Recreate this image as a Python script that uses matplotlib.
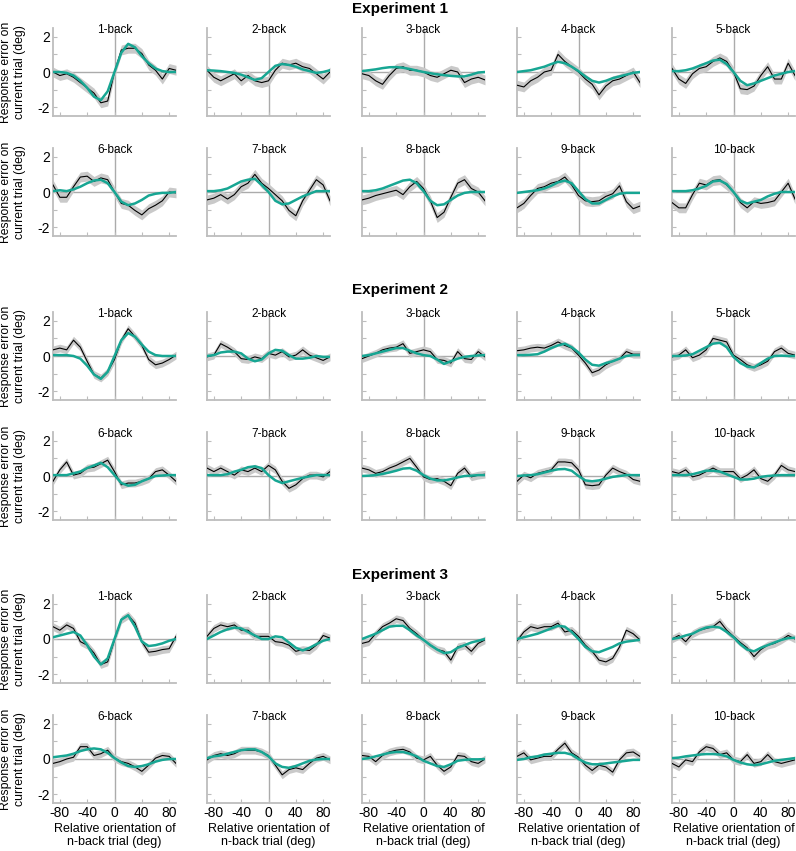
import numpy as np
import matplotlib.pyplot as plt

plt.rcParams['font.family'] = ['Liberation Sans', 'DejaVu Sans']

# relative orientation of the n-back trial (deg)
orientation = [-90, -80, -70, -60, -50, -40, -30, -20, -10, 0,
               10, 20, 30, 40, 50, 60, 70, 80, 90]

experiments = ['Experiment 1', 'Experiment 2', 'Experiment 3']
nback_labels = ['1-back', '2-back', '3-back', '4-back', '5-back',
                '6-back', '7-back', '8-back', '9-back', '10-back']

# mean response error (black line), one list per n-back
exp1_data = [
    [0.0, -0.2, -0.1, -0.3, -0.6, -0.9, -1.2, -1.75, -1.65, 0.0, 1.25, 1.35, 1.35, 1.05, 0.4, 0.1, -0.4, 0.2, 0.1],
    [0.1, -0.3, -0.5, -0.3, -0.1, -0.5, -0.2, -0.5, -0.6, -0.5, 0.1, 0.5, 0.4, 0.5, 0.3, 0.2, -0.1, -0.4, 0.0],
    [-0.1, -0.2, -0.5, -0.7, -0.2, 0.2, 0.3, 0.1, 0.1, 0.0, -0.2, -0.3, -0.1, 0.1, 0.0, -0.6, -0.4, -0.3, -0.45],
    [-0.75, -0.85, -0.5, -0.3, 0.0, 0.1, 1.0, 0.6, 0.3, 0.0, -0.4, -0.7, -1.3, -0.8, -0.5, -0.4, -0.2, 0.0, -0.6],
    [0.2, -0.4, -0.65, -0.1, 0.2, 0.3, 0.6, 0.8, 0.6, 0.0, -0.95, -1.0, -0.8, -0.2, 0.3, -0.4, -0.4, 0.5, -0.2],
    [0.4, -0.3, -0.3, 0.3, 0.85, 0.9, 0.6, 0.8, 0.7, 0.0, -0.65, -0.75, -1.05, -1.3, -0.95, -0.75, -0.5, 0.0, -0.05],
    [-0.45, -0.35, -0.15, -0.4, -0.15, 0.3, 0.5, 1.0, 0.5, 0.2, -0.15, -0.5, -1.05, -1.35, -0.5, 0.1, 0.7, 0.4, -0.5],
    [-0.45, -0.35, -0.2, -0.1, 0.0, 0.1, -0.15, 0.3, 0.6, 0.2, -0.5, -1.45, -1.15, -0.3, 0.5, 0.7, 0.2, 0.0, -0.5],
    [-0.9, -0.65, -0.2, 0.2, 0.3, 0.5, 0.6, 0.85, 0.4, -0.2, -0.5, -0.55, -0.5, -0.25, -0.1, 0.35, -0.55, -0.95, -0.8],
    [-0.6, -0.9, -0.9, -0.15, 0.5, 0.4, 0.65, 0.7, 0.4, 0.0, -0.6, -0.9, -0.55, -0.65, -0.6, -0.5, 0.0, 0.5, -0.4],
]
exp2_data = [
    [0.35, 0.45, 0.35, 0.9, 0.5, -0.3, -1.05, -1.25, -0.9, -0.2, 0.9, 1.55, 1.1, 0.6, -0.2, -0.5, -0.4, -0.2, 0.05],
    [-0.05, 0.05, 0.7, 0.5, 0.25, -0.15, -0.2, -0.05, -0.15, 0.15, 0.05, 0.25, -0.05, 0.05, 0.35, 0.05, -0.1, -0.25, -0.05],
    [-0.15, 0.0, 0.15, 0.35, 0.45, 0.5, 0.7, 0.15, 0.25, 0.35, 0.25, -0.2, -0.25, -0.4, 0.25, -0.15, -0.2, 0.25, -0.05],
    [0.3, 0.35, 0.45, 0.5, 0.45, 0.6, 0.8, 0.6, 0.45, 0.05, -0.4, -0.95, -0.8, -0.5, -0.3, -0.15, 0.25, 0.1, 0.1],
    [-0.05, 0.05, 0.35, -0.1, 0.05, 0.35, 1.0, 0.9, 0.8, 0.05, -0.2, -0.5, -0.65, -0.5, -0.3, 0.25, 0.45, 0.15, 0.05],
    [-0.3, 0.35, 0.8, 0.05, 0.15, 0.45, 0.5, 0.7, 0.9, 0.25, -0.5, -0.4, -0.4, -0.3, -0.15, 0.25, 0.35, 0.05, -0.3],
    [0.45, 0.25, 0.45, 0.25, 0.05, 0.35, 0.25, 0.45, 0.25, 0.6, 0.35, -0.3, -0.7, -0.5, -0.15, 0.05, 0.05, -0.05, 0.25],
    [0.45, 0.35, 0.15, 0.25, 0.45, 0.6, 0.8, 1.0, 0.5, -0.05, -0.2, -0.15, -0.3, -0.55, 0.15, 0.45, -0.05, 0.05, 0.1],
    [-0.3, 0.05, -0.1, 0.15, 0.25, 0.35, 0.8, 0.8, 0.75, 0.35, -0.5, -0.55, -0.5, 0.05, 0.45, 0.25, 0.1, -0.2, -0.3],
    [0.25, 0.15, 0.35, -0.05, 0.05, 0.25, 0.45, 0.25, 0.25, 0.25, -0.15, 0.05, 0.35, -0.15, -0.3, 0.05, 0.6, 0.35, 0.25],
]
exp3_data = [
    [0.7, 0.5, 0.8, 0.6, -0.15, -0.35, -0.8, -1.45, -1.3, -0.05, 1.1, 1.35, 0.9, -0.15, -0.75, -0.7, -0.6, -0.55, 0.15],
    [0.15, 0.6, 0.8, 0.7, 0.8, 0.5, 0.5, 0.15, 0.15, 0.15, -0.15, -0.2, -0.35, -0.7, -0.6, -0.65, -0.35, 0.2, 0.05],
    [-0.25, -0.15, 0.3, 0.7, 0.9, 1.15, 1.05, 0.6, 0.3, -0.05, -0.35, -0.6, -0.7, -1.2, -0.45, -0.35, -0.7, -0.25, -0.05],
    [-0.1, 0.4, 0.7, 0.6, 0.7, 0.7, 0.9, 0.4, 0.5, 0.15, -0.35, -0.7, -1.2, -1.3, -1.1, -0.45, 0.5, 0.3, -0.05],
    [0.0, 0.2, -0.15, 0.3, 0.5, 0.6, 0.7, 1.0, 0.5, 0.15, -0.2, -0.5, -1.0, -0.6, -0.35, -0.25, -0.05, 0.2, 0.0],
    [-0.25, -0.15, 0.0, 0.1, 0.7, 0.7, 0.2, 0.3, 0.5, 0.05, -0.15, -0.25, -0.45, -0.7, -0.35, 0.05, 0.2, 0.15, -0.25],
    [-0.05, 0.2, 0.3, 0.2, 0.3, 0.5, 0.5, 0.5, 0.4, 0.2, -0.35, -0.9, -0.6, -0.5, -0.6, -0.25, 0.05, 0.15, -0.05],
    [0.2, 0.15, -0.15, 0.2, 0.4, 0.5, 0.55, 0.4, 0.05, -0.05, 0.15, -0.35, -0.7, -0.45, 0.2, 0.15, -0.15, -0.25, 0.0],
    [0.15, 0.35, -0.05, 0.05, 0.15, 0.15, 0.55, 0.9, 0.35, 0.1, -0.35, -0.65, -0.35, -0.45, -0.75, -0.05, 0.35, 0.4, 0.15],
    [-0.25, -0.45, -0.05, -0.15, 0.4, 0.7, 0.6, 0.25, 0.35, -0.05, -0.15, 0.25, -0.25, -0.15, 0.25, -0.15, -0.25, -0.15, -0.05],
]

# model fit (teal curve)
exp1_fit = [
    [0.0, 0.0, -0.05, -0.2, -0.5, -0.9, -1.4, -1.6, -1.1, 0.0, 1.1, 1.6, 1.4, 0.9, 0.5, 0.2, 0.05, 0.0, 0.0],
    [0.1, 0.08, 0.05, 0.0, -0.05, -0.15, -0.3, -0.45, -0.35, 0.0, 0.35, 0.45, 0.4, 0.3, 0.15, 0.05, -0.05, 0.0, 0.1],
    [0.05, 0.1, 0.15, 0.22, 0.27, 0.28, 0.24, 0.17, 0.08, 0.0, -0.07, -0.13, -0.18, -0.22, -0.25, -0.25, -0.15, -0.03, 0.0],
    [0.0, 0.05, 0.1, 0.2, 0.3, 0.45, 0.58, 0.5, 0.3, 0.05, -0.25, -0.5, -0.6, -0.5, -0.35, -0.25, -0.15, -0.05, 0.0],
    [0.05, 0.05, 0.1, 0.2, 0.35, 0.5, 0.65, 0.7, 0.45, 0.0, -0.5, -0.75, -0.65, -0.5, -0.35, -0.2, -0.1, 0.0, 0.05],
    [0.05, 0.1, 0.05, 0.15, 0.3, 0.5, 0.65, 0.7, 0.5, 0.0, -0.55, -0.75, -0.65, -0.45, -0.2, -0.1, -0.05, -0.05, 0.0],
    [0.05, 0.05, 0.1, 0.2, 0.4, 0.6, 0.7, 0.75, 0.4, 0.0, -0.5, -0.7, -0.65, -0.45, -0.25, -0.1, 0.05, 0.05, 0.05],
    [0.05, 0.05, 0.1, 0.2, 0.35, 0.5, 0.65, 0.7, 0.5, 0.05, -0.5, -0.75, -0.7, -0.45, -0.2, -0.05, 0.0, 0.0, 0.0],
    [-0.05, 0.0, 0.05, 0.1, 0.2, 0.35, 0.55, 0.65, 0.5, 0.05, -0.4, -0.65, -0.65, -0.45, -0.25, -0.1, -0.05, -0.05, -0.05],
    [0.05, 0.05, 0.05, 0.1, 0.2, 0.35, 0.6, 0.65, 0.45, 0.0, -0.5, -0.65, -0.55, -0.45, -0.25, -0.1, 0.0, 0.0, 0.0],
]
exp2_fit = [
    [0.05, 0.05, 0.05, 0.0, -0.15, -0.55, -1.05, -1.3, -0.9, 0.0, 0.9, 1.3, 1.1, 0.65, 0.25, 0.05, 0.0, 0.0, 0.0],
    [0.0, 0.05, 0.2, 0.25, 0.25, 0.15, -0.15, -0.3, -0.2, 0.15, 0.35, 0.3, 0.05, -0.15, -0.15, -0.1, 0.0, -0.05, -0.05],
    [0.0, 0.05, 0.15, 0.25, 0.35, 0.45, 0.45, 0.3, 0.15, 0.05, 0.0, -0.2, -0.45, -0.3, -0.15, -0.05, 0.0, 0.03, 0.05],
    [0.05, 0.05, 0.07, 0.1, 0.25, 0.45, 0.6, 0.7, 0.5, 0.2, -0.2, -0.5, -0.55, -0.4, -0.3, -0.15, 0.0, 0.05, 0.05],
    [0.0, 0.0, 0.03, 0.1, 0.3, 0.5, 0.7, 0.75, 0.5, -0.05, -0.4, -0.6, -0.65, -0.4, -0.15, 0.0, 0.02, 0.0, 0.0],
    [0.05, 0.05, 0.05, 0.15, 0.25, 0.45, 0.6, 0.75, 0.5, 0.05, -0.4, -0.55, -0.5, -0.3, -0.15, 0.0, 0.03, 0.05, 0.05],
    [0.05, 0.05, 0.05, 0.1, 0.25, 0.35, 0.5, 0.55, 0.45, 0.05, -0.25, -0.4, -0.3, -0.2, -0.1, -0.02, 0.05, 0.05, 0.05],
    [0.0, 0.02, 0.05, 0.12, 0.2, 0.3, 0.42, 0.45, 0.3, 0.05, -0.15, -0.25, -0.25, -0.18, -0.08, 0.0, 0.02, 0.05, 0.05],
    [0.0, 0.03, 0.05, 0.1, 0.2, 0.3, 0.38, 0.4, 0.3, 0.0, -0.25, -0.3, -0.25, -0.15, -0.05, 0.0, 0.05, 0.05, 0.05],
    [0.05, 0.05, 0.05, 0.1, 0.2, 0.3, 0.3, 0.25, 0.1, -0.05, -0.2, -0.2, -0.15, -0.05, 0.0, 0.03, 0.05, 0.05, 0.05],
]
exp3_fit = [
    [0.1, 0.2, 0.3, 0.4, 0.2, -0.35, -1.0, -1.45, -1.1, 0.0, 1.1, 1.35, 0.7, -0.15, -0.4, -0.35, -0.25, -0.1, 0.0],
    [0.0, 0.2, 0.4, 0.55, 0.65, 0.6, 0.4, 0.2, 0.0, 0.0, 0.15, 0.1, -0.2, -0.5, -0.65, -0.5, -0.3, -0.1, 0.0],
    [0.0, 0.15, 0.3, 0.5, 0.7, 0.75, 0.75, 0.5, 0.2, -0.05, -0.35, -0.6, -0.8, -0.75, -0.5, -0.35, -0.2, -0.1, 0.0],
    [0.0, 0.1, 0.2, 0.3, 0.45, 0.6, 0.75, 0.7, 0.4, 0.0, -0.45, -0.7, -0.75, -0.6, -0.45, -0.25, -0.15, -0.1, -0.05],
    [0.0, 0.07, 0.2, 0.3, 0.5, 0.65, 0.7, 0.65, 0.4, 0.1, -0.3, -0.6, -0.7, -0.5, -0.35, -0.2, -0.05, 0.05, 0.07],
    [0.1, 0.15, 0.2, 0.3, 0.45, 0.55, 0.6, 0.55, 0.35, 0.05, -0.2, -0.4, -0.45, -0.4, -0.3, -0.15, -0.05, 0.0, 0.0],
    [0.05, 0.15, 0.2, 0.3, 0.4, 0.5, 0.55, 0.55, 0.4, 0.15, -0.25, -0.45, -0.5, -0.4, -0.25, -0.1, -0.03, 0.0, 0.0],
    [0.0, 0.05, 0.15, 0.25, 0.35, 0.4, 0.4, 0.3, 0.15, -0.1, -0.25, -0.4, -0.45, -0.3, -0.1, -0.05, -0.02, -0.02, 0.0],
    [-0.05, 0.0, 0.1, 0.15, 0.25, 0.3, 0.35, 0.35, 0.25, 0.0, -0.2, -0.3, -0.3, -0.25, -0.2, -0.15, -0.1, -0.05, -0.05],
    [0.05, 0.08, 0.15, 0.2, 0.25, 0.28, 0.28, 0.25, 0.15, -0.05, -0.2, -0.3, -0.35, -0.3, -0.2, -0.1, -0.05, 0.0, 0.05],
]

# half-width of the shaded error band per experiment
exp_sem = [0.28, 0.22, 0.22]

all_data = [exp1_data, exp2_data, exp3_data]
all_fit = [exp1_fit, exp2_fit, exp3_fit]

W, H = 796, 851
col_left = [53, 207, 362, 517, 672]
row_top = [[28, 148], [312, 432], [595, 715]]
title_y = [9, 290, 575]
ax_w, ax_h = 123, 88

teal = '#17a693'
axis_gray = '#bdbdbd'
zero_gray = '#ababab'

fig = plt.figure(figsize=(W / 100, H / 100), dpi=100)
x = np.array(orientation)

for e in range(3):
    fig.text(400 / W, 1 - title_y[e] / H, experiments[e], ha='center', va='center',
             fontsize=11, fontweight='bold')
    for k in range(10):
        r, c = k // 5, k % 5
        top = row_top[e][r]
        ax = fig.add_axes([col_left[c] / W, 1 - (top + ax_h) / H, ax_w / W, ax_h / H])
        y = np.array(all_data[e][k])
        f = np.array(all_fit[e][k])
        s = exp_sem[e]

        ax.axhline(0, color=zero_gray, lw=1, zorder=1)
        ax.axvline(0, color=zero_gray, lw=1, zorder=1)
        ax.fill_between(x, y - s, y + s, color='#c9c9c9', lw=0, zorder=2)
        ax.plot(x, y, color='black', lw=0.8, zorder=3)
        ax.plot(x, f, color=teal, lw=1.8, zorder=4)

        ax.set_xlim(-90, 90)
        ax.set_ylim(-2.5, 2.5)
        for side in ['top', 'right']:
            ax.spines[side].set_visible(False)
        for side in ['left', 'bottom']:
            ax.spines[side].set_color(axis_gray)
            ax.spines[side].set_linewidth(1.3)

        ax.set_yticks([-2, -1, 0, 1, 2])
        ax.set_xticks([-80, -40, 0, 40, 80])
        if c == 0:
            ax.set_yticklabels(['-2', '', '0', '', '2'])
            fig.text(13 / W, 1 - (top + ax_h / 2) / H,
                     'Response error on\ncurrent trial (deg)', rotation=90,
                     ha='center', va='center', fontsize=8.8, multialignment='center')
        else:
            ax.set_yticklabels([])
        if e == 2 and r == 1:
            ax.set_xticklabels(['-80', '-40', '0', '40', '80'])
            ax.set_xlabel('Relative orientation of\nn-back trial (deg)', fontsize=9, labelpad=2)
        else:
            ax.set_xticklabels([])
        ax.tick_params(direction='in', length=3, color=axis_gray, labelsize=10, pad=2)

        ax.text(0.5, 0.98, nback_labels[k], transform=ax.transAxes,
                ha='center', va='center', fontsize=8.5)

fig.savefig('out.png', dpi=100)
